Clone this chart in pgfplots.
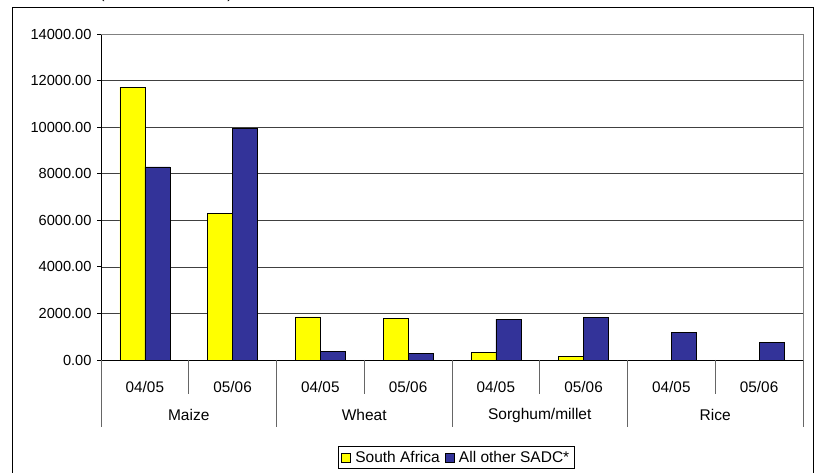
\documentclass[border=0pt]{standalone}
\usepackage{fontspec}
\setmainfont{Liberation Sans}
\usepackage{pgfplots}
\pgfplotsset{compat=1.18}
\definecolor{saYellow}{HTML}{FFFF00}
\definecolor{sadcBlue}{HTML}{333399}
\begin{document}
\begin{tikzpicture}[x=1pt,y=1pt]
\useasboundingbox (0,0) rectangle (817,473);
\draw[line width=1pt] (12,-5) -- (12,465) -- (813,465) -- (813,-5);
\node[anchor=base, font=\fontsize{15}{18}\selectfont] at (166,474.3) {(’000 metric tonnes)};
\begin{axis}[
  at={(101pt,113pt)}, anchor=south west,
  scale only axis, width=702pt, height=326pt,
  clip=false,
  ymin=0, ymax=14000, ytick={0,2000,...,14000},
  xmin=-0.5, xmax=7.5,
  ybar=0pt, bar width=25pt,
  axis x line*=bottom, axis y line*=left,
  axis line style={black, line width=0.8pt},
  tick align=outside,
  major tick length=4pt,
  x tick style={draw=none},
  y tick style={black, line width=0.8pt},
  ymajorgrids,
  major grid style={black!75, line width=0.7pt},
  /pgf/number format/assume math mode=true,
  yticklabel style={font=\fontsize{14.6}{17}\selectfont, xshift=-2pt, /pgf/number format/fixed, /pgf/number format/fixed zerofill, /pgf/number format/precision=2, /pgf/number format/1000 sep={}},
  scaled y ticks=false,
  xtick={0,...,7},
  xticklabels={04/05,05/06,04/05,05/06,04/05,05/06,04/05,05/06},
  xticklabel style={font=\fontsize{15.3}{18}\selectfont, anchor=center, yshift=-23pt},
  legend columns=2,
  legend image code/.code={\draw[#1, draw=black, line width=0.7pt] (0pt,-4.5pt) rectangle (9pt,4.5pt);},
  legend style={at={(0.506,-0.299)}, anchor=center, draw=black, line width=0.8pt,
    font=\fontsize{15.5}{18}\selectfont, inner sep=3pt,
    /tikz/every odd column/.append style={column sep=2.5pt},
    /tikz/every even column/.append style={column sep=3pt}},
]
\addplot[fill=saYellow, draw=black, line width=0.7pt] coordinates {(0,11720) (1,6310) (2,1850) (3,1800) (4,310) (5,160)};
\addlegendentry{South Africa}
\addplot[fill=sadcBlue, draw=black, line width=0.7pt] coordinates {(0,8290) (1,9960) (2,350) (3,300) (4,1760) (5,1820) (6,1190) (7,770)};
\addlegendentry{All other SADC*}
\draw[gray, line width=0.8pt] (rel axis cs:0,1) -- (rel axis cs:1,1) -- (rel axis cs:1,0);
\draw[black!60, line width=0.8pt] (axis cs:-0.5,0) -- ([yshift=-67pt]axis cs:-0.5,0);
\draw[black!60, line width=0.8pt] (axis cs:1.5,0) -- ([yshift=-67pt]axis cs:1.5,0);
\draw[black!60, line width=0.8pt] (axis cs:3.5,0) -- ([yshift=-67pt]axis cs:3.5,0);
\draw[black!60, line width=0.8pt] (axis cs:5.5,0) -- ([yshift=-67pt]axis cs:5.5,0);
\draw[black!60, line width=0.8pt] (axis cs:7.5,0) -- ([yshift=-67pt]axis cs:7.5,0);
\draw[black!60, line width=0.8pt] (axis cs:0.5,0) -- ([yshift=-34pt]axis cs:0.5,0);
\draw[black!60, line width=0.8pt] (axis cs:2.5,0) -- ([yshift=-34pt]axis cs:2.5,0);
\draw[black!60, line width=0.8pt] (axis cs:4.5,0) -- ([yshift=-34pt]axis cs:4.5,0);
\draw[black!60, line width=0.8pt] (axis cs:6.5,0) -- ([yshift=-34pt]axis cs:6.5,0);
\node[font=\fontsize{15.5}{18}\selectfont] at ([yshift=-55pt]axis cs:0.5,0) {Maize};
\node[font=\fontsize{15.5}{18}\selectfont] at ([yshift=-55pt]axis cs:2.5,0) {Wheat};
\node[font=\fontsize{15.5}{18}\selectfont] at ([yshift=-55pt]axis cs:4.5,0) {Sorghum/millet};
\node[font=\fontsize{15.5}{18}\selectfont] at ([yshift=-55pt]axis cs:6.5,0) {Rice};
\end{axis}
\end{tikzpicture}
\end{document}
